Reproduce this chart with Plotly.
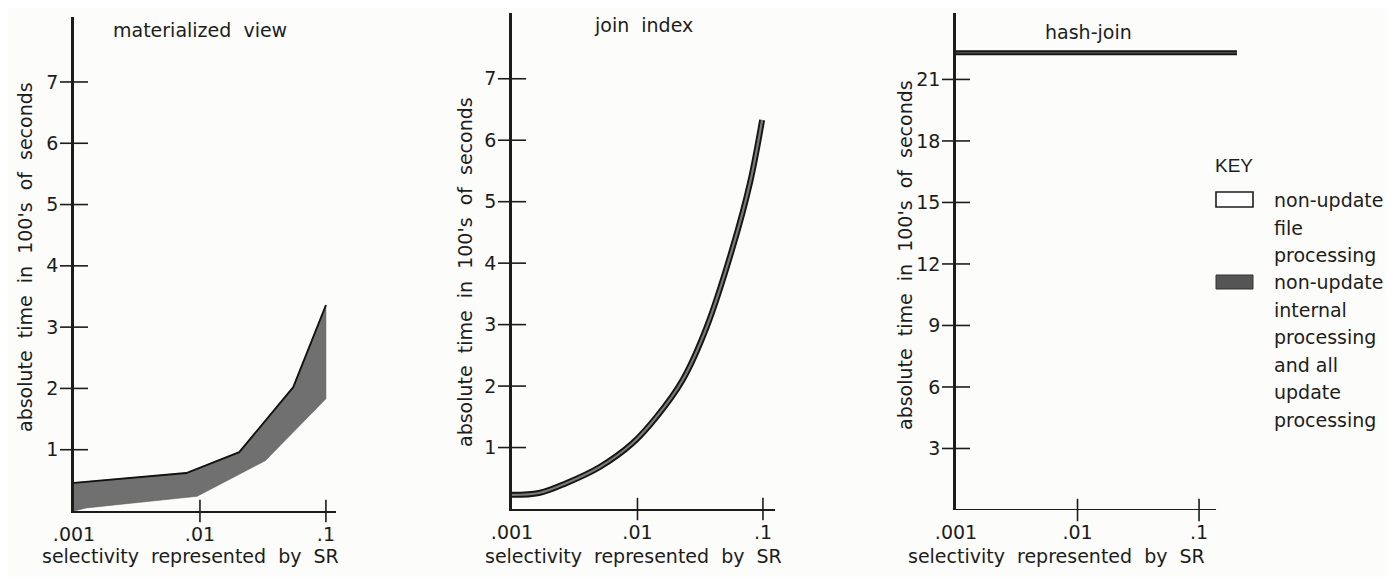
import plotly.graph_objects as go

W, H = 1393, 577
OFF = 8                      # the page body margin of the browser
FW, FH = W - OFF, H - OFF    # figure size so that it fills the window exactly

# ---------------- data ----------------
# materialized view: shaded band (lower / upper boundary)
mv_upper_x = [0.001, 0.0078, 0.0205, 0.055, 0.1]
mv_upper_y = [0.46, 0.62, 0.96, 2.02, 3.36]
mv_lower_x = [0.001, 0.00125, 0.0095, 0.033, 0.1]
mv_lower_y = [0.0, 0.05, 0.24, 0.82, 1.83]

# join index: thin band curve
ji_x = [0.001, 0.00164, 0.0027, 0.00497, 0.00912, 0.0142, 0.0229, 0.0356, 0.0575, 0.0787, 0.0985]
ji_y = [0.23, 0.26, 0.42, 0.68, 1.07, 1.50, 2.10, 2.96, 4.26, 5.30, 6.33]

# hash-join: constant
hj_x = [0.001, 0.205]
hj_y = [22.3, 22.3]

x_tickvals = [0.001, 0.01, 0.1]
x_ticktext = [".001", ".01", ".1"]
y_ticks_small = [1, 2, 3, 4, 5, 6, 7]
y_ticks_hash = [3, 6, 9, 12, 15, 18, 21]

panel_titles = ["materialized\u00a0 view", "join\u00a0 index", "hash-join"]
x_title = "selectivity\u00a0 represented\u00a0 by\u00a0 SR"
y_title = "absolute\u00a0 time\u00a0 in\u00a0 100's\u00a0 of\u00a0 seconds"
key_title = "KEY"
key_labels = [["non-update", "file", "processing"],
              ["non-update", "internal", "processing", "and all", "update", "processing"]]

FONT = "DejaVu Sans"
INK = "#1c1c1c"
GRAY = "#707070"
BG = "#fcfcfa"


def px(x):
    return (x - OFF) / FW


def py(y):
    return 1 - (y - OFF) / FH


fig = go.Figure()

# ---- panel 1: materialized view ----
poly_x = mv_upper_x + mv_lower_x[::-1]
poly_y = mv_upper_y + mv_lower_y[::-1]
fig.add_trace(go.Scatter(x=poly_x, y=poly_y, fill="toself", fillcolor=GRAY,
                         mode="lines", line=dict(width=0.5, color="#555"),
                         xaxis="x", yaxis="y", showlegend=False, hoverinfo="skip"))
fig.add_trace(go.Scatter(x=mv_upper_x, y=mv_upper_y, mode="lines",
                         line=dict(color="#111", width=1.8),
                         xaxis="x", yaxis="y", showlegend=False))

# ---- panel 2: join index ----
fig.add_trace(go.Scatter(x=ji_x, y=ji_y, mode="lines", line_shape="spline",
                         line=dict(color="#151515", width=6),
                         xaxis="x2", yaxis="y2", showlegend=False))
fig.add_trace(go.Scatter(x=ji_x, y=ji_y, mode="lines", line_shape="spline",
                         line=dict(color="#7a7a7a", width=2.2),
                         xaxis="x2", yaxis="y2", showlegend=False))

# ---- panel 3: hash-join ----
fig.add_trace(go.Scatter(x=hj_x, y=hj_y, mode="lines",
                         line=dict(color="#151515", width=5),
                         xaxis="x3", yaxis="y3", showlegend=False))
fig.add_trace(go.Scatter(x=hj_x, y=hj_y, mode="lines",
                         line=dict(color="#4a4a4a", width=1.5),
                         xaxis="x3", yaxis="y3", showlegend=False))

# ---- crossing tick marks ----
for xa, ya, yt in [("x", "y", y_ticks_small), ("x2", "y2", y_ticks_small), ("x3", "y3", y_ticks_hash)]:
    fig.add_trace(go.Scatter(x=[x_tickvals[0]] * len(yt), y=yt, mode="markers",
                             marker=dict(symbol="line-ew", size=20,
                                         line=dict(color=INK, width=1.6)),
                             cliponaxis=False, xaxis=xa, yaxis=ya,
                             showlegend=False, hoverinfo="skip"))
    fig.add_trace(go.Scatter(x=x_tickvals[1:], y=[0] * len(x_tickvals[1:]), mode="markers",
                             marker=dict(symbol="line-ns", size=16,
                                         line=dict(color=INK, width=1.6)),
                             cliponaxis=False, xaxis=xa, yaxis=ya,
                             showlegend=False, hoverinfo="skip"))

# ---------------- axes ----------------
panels = [
    # (x0, x1, ytop, ybot, xrange, yrange, yticks)  -- window pixels
    (74, 336, 17, 511, [-3, -0.92], [0, 8.06], y_ticks_small),
    (512, 775, 13, 509, [-3, -0.904], [0, 8.07], y_ticks_small),
    (956, 1240, 13, 510, [-3, -0.663], [0, 24.24], y_ticks_hash),
]

tickfont = dict(family=FONT, size=19, color=INK)
layout = {}
for i, (x0, x1, yt, yb, xr, yr, ytv) in enumerate(panels):
    sfx = "" if i == 0 else str(i + 1)
    layout["xaxis" + sfx] = dict(
        type="log", domain=[px(x0), px(x1)], range=xr, anchor="y" + sfx,
        tickvals=x_tickvals, ticktext=x_ticktext, ticks="outside", ticklen=5,
        tickcolor="rgba(0,0,0,0)", showline=(i < 2), linecolor=INK, linewidth=2,
        showgrid=False, zeroline=False, tickfont=tickfont, fixedrange=True,
        automargin=False)
    layout["yaxis" + sfx] = dict(
        domain=[py(yb), py(yt)], range=yr, anchor="x" + sfx,
        tickvals=ytv, ticks="outside", ticklen=9, tickcolor="rgba(0,0,0,0)",
        showline=True, linecolor=INK, linewidth=2.5,
        showgrid=False, zeroline=False, tickfont=tickfont, fixedrange=True,
        automargin=False)

shapes = [
    # panel 3 x-axis line (shorter than the plotted line)
    dict(type="line", xref="x3", yref="y3", x0=0.001, x1=0.138, y0=0, y1=0,
         line=dict(color=INK, width=2)),
    # key boxes
    dict(type="rect", xref="paper", yref="paper", x0=px(1216), x1=px(1253),
         y0=py(207), y1=py(192), line=dict(color=INK, width=1.6), fillcolor="white"),
    dict(type="rect", xref="paper", yref="paper", x0=px(1216), x1=px(1253),
         y0=py(289), y1=py(275), line=dict(color="#333", width=1), fillcolor="#555"),
]

txt = dict(family=FONT, size=19, color=INK)
annotations = []
# panel titles
for t, (cx, cy) in zip(panel_titles, [(200, 30), (643, 25), (1088, 32)]):
    annotations.append(dict(text=t, x=px(cx), y=py(cy), xref="paper", yref="paper",
                            showarrow=False, xanchor="center", yanchor="middle", font=txt))
# x titles
for cx in [190, 633, 1056]:
    annotations.append(dict(text=x_title, x=px(cx), y=py(556), xref="paper", yref="paper",
                            showarrow=False, xanchor="center", yanchor="middle", font=txt))
# y titles
for cx, cy in [(25, 257), (465, 272), (905, 255)]:
    annotations.append(dict(text=y_title, x=px(cx), y=py(cy), xref="paper", yref="paper",
                            showarrow=False, xanchor="center", yanchor="middle",
                            textangle=-90, font=txt))
# key
annotations.append(dict(text=key_title, x=px(1213), y=py(165), xref="paper", yref="paper",
                        showarrow=False, xanchor="left", yanchor="middle",
                        font=dict(family="Liberation Sans", size=19, color=INK)))
LINE_STEP = 27.5
for lines, y_first in zip(key_labels, [200, 282]):
    for k, line in enumerate(lines):
        annotations.append(dict(text=line, x=px(1272), y=py(y_first + k * LINE_STEP),
                                xref="paper", yref="paper", showarrow=False,
                                xanchor="left", yanchor="middle",
                                font=dict(family=FONT, size=19, color=INK)))

fig.update_layout(
    width=FW, height=FH, margin=dict(l=0, r=0, t=0, b=0),
    paper_bgcolor=BG, plot_bgcolor=BG, showlegend=False,
    shapes=shapes, annotations=annotations, **layout)

fig.write_html("out.html")
